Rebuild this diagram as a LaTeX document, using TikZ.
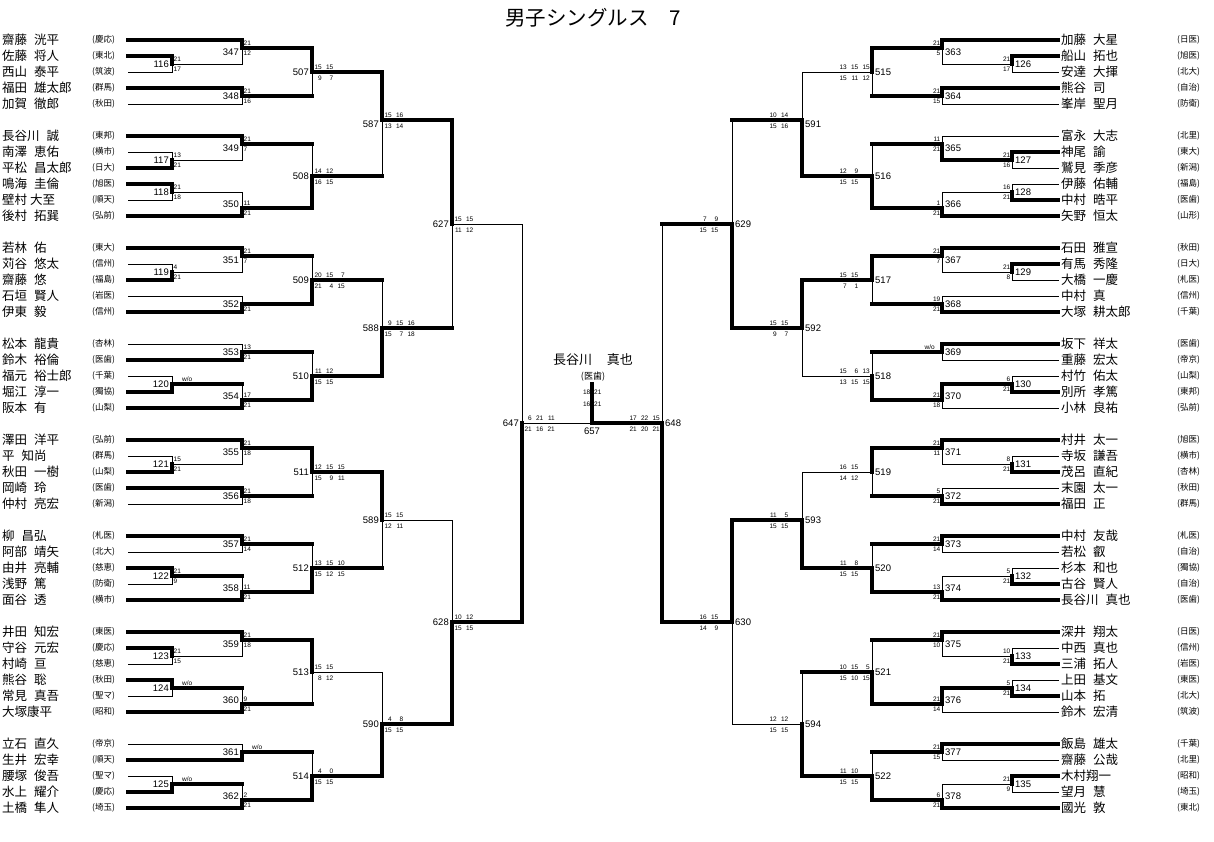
\documentclass[tikz,border=0pt]{standalone}
\usepackage{fontspec}
\setmainfont{Liberation Sans}
\newfontfamily\jp{Noto Sans CJK JP}
\newcommand\gp{\hspace{7pt}}
\newcommand\bedge[4]{\draw[#1] (#3) -- (#3 -| #4); \draw[#2] (#3 -| #4) -- (#4);}
\newcommand\lpl[4]{\coordinate (#1) at (128,#2);
 \node[nm,anchor=west] (#1n) at (2,#2) {#3};
 \node[sch,anchor=west] (#1s) at (92,#2) {(#4)};}
\newcommand\rpl[4]{\coordinate (#1) at (1058,#2);
 \node[nm,anchor=west] (#1n) at (1061,#2) {#3};
 \node[sch,anchor=west] (#1s) at (1177,#2) {(#4)};}
\newcommand\scl[5]{\node[gs,anchor=south west] (s#1t) at (#2+1.5,#3-2) {#4};
 \node[gs,anchor=north west] (s#1b) at (#2+1.5,#3+3) {#5};}
\newcommand\scr[5]{\node[gs,anchor=south east] (s#1t) at (#2-1.5,#3-2) {#4};
 \node[gs,anchor=north east] (s#1b) at (#2-1.5,#3+3) {#5};}
\newcommand\gml[9]{\node[gs,anchor=south east] (s#1a) at (#2+10,#3-2.5) {#4};
 \node[gs,anchor=south east] (s#1b) at (#2+21.5,#3-2.5) {#5};
 \node[gs,anchor=south east] (s#1c) at (#2+33,#3-2.5) {#6};
 \node[gs,anchor=north east] (s#1d) at (#2+10,#3+4) {#7};
 \node[gs,anchor=north east] (s#1e) at (#2+21.5,#3+4) {#8};
 \node[gs,anchor=north east] (s#1f) at (#2+33,#3+4) {#9};}
\newcommand\gmr[9]{\node[gs,anchor=south east] (s#1a) at (#2-25,#3-2.5) {#4};
 \node[gs,anchor=south east] (s#1b) at (#2-13.5,#3-2.5) {#5};
 \node[gs,anchor=south east] (s#1c) at (#2-2,#3-2.5) {#6};
 \node[gs,anchor=north east] (s#1d) at (#2-25,#3+4) {#7};
 \node[gs,anchor=north east] (s#1e) at (#2-13.5,#3+4) {#8};
 \node[gs,anchor=north east] (s#1f) at (#2-2,#3+4) {#9};}
\begin{document}
\begin{tikzpicture}[x=1pt,y=-1pt,
 thk/.style={line width=3.2pt,line cap=rect},
 thn/.style={line width=1pt,line cap=rect},
 nm/.style={font=\jp\fontsize{12.5}{12.5}\selectfont,inner sep=0},
 sch/.style={font=\jp\fontsize{8.5}{8.5}\selectfont,inner sep=0},
 mn/.style={font=\fontsize{9.5}{9.5}\selectfont,inner sep=0},
 gs/.style={font=\fontsize{6.5}{6.5}\selectfont,inner sep=0}]
\fill[white] (0,0) rectangle (1214,841);
\useasboundingbox (0,0) rectangle (1214,841);
\node[font=\jp\fontsize{20.5}{20.5}\selectfont,inner sep=0] (title) at (593,18) {男子シングルス　7};
% ---------------- left players
\lpl{p0}{40}{齋藤\gp 洸平}{慶応}
\lpl{p1}{56}{佐藤\gp 将人}{東北}
\lpl{p2}{72}{西山\gp 泰平}{筑波}
\lpl{p3}{88}{福田\gp 雄太郎}{群馬}
\lpl{p4}{104}{加賀\gp 徹郎}{秋田}
\lpl{p6}{136}{長谷川\gp 誠}{東邦}
\lpl{p7}{152}{南澤\gp 恵佑}{横市}
\lpl{p8}{168}{平松\gp 昌太郎}{日大}
\lpl{p9}{184}{鳴海\gp 圭倫}{旭医}
\lpl{p10}{200}{壁村 大至}{順天}
\lpl{p11}{216}{後村\gp 拓巽}{弘前}
\lpl{p13}{248}{若林\gp 佑}{東大}
\lpl{p14}{264}{苅谷\gp 悠太}{信州}
\lpl{p15}{280}{齋藤\gp 悠}{福島}
\lpl{p16}{296}{石垣\gp 賢人}{岩医}
\lpl{p17}{312}{伊東\gp 毅}{信州}
\lpl{p19}{344}{松本\gp 龍貴}{杏林}
\lpl{p20}{360}{鈴木\gp 裕倫}{医歯}
\lpl{p21}{376}{福元\gp 裕士郎}{千葉}
\lpl{p22}{392}{堀江\gp 淳一}{獨協}
\lpl{p23}{408}{阪本\gp 有}{山梨}
\lpl{p25}{440}{澤田\gp 洋平}{弘前}
\lpl{p26}{456}{平\gp 知尚}{群馬}
\lpl{p27}{472}{秋田\gp 一樹}{山梨}
\lpl{p28}{488}{岡崎\gp 玲}{医歯}
\lpl{p29}{504}{仲村\gp 亮宏}{新潟}
\lpl{p31}{536}{柳\gp 昌弘}{札医}
\lpl{p32}{552}{阿部\gp 靖矢}{北大}
\lpl{p33}{568}{由井\gp 亮輔}{慈恵}
\lpl{p34}{584}{浅野\gp 篤}{防衛}
\lpl{p35}{600}{面谷\gp 透}{横市}
\lpl{p37}{632}{井田\gp 知宏}{東医}
\lpl{p38}{648}{守谷\gp 元宏}{慶応}
\lpl{p39}{664}{村崎\gp 亘}{慈恵}
\lpl{p40}{680}{熊谷\gp 聡}{秋田}
\lpl{p41}{696}{常見\gp 真吾}{聖マ}
\lpl{p42}{712}{大塚康平}{昭和}
\lpl{p44}{744}{立石\gp 直久}{帝京}
\lpl{p45}{760}{生井\gp 宏幸}{順天}
\lpl{p46}{776}{腰塚\gp 俊吾}{聖マ}
\lpl{p47}{792}{水上\gp 耀介}{慶応}
\lpl{p48}{808}{土橋\gp 隼人}{埼玉}
% ---------------- right players
\rpl{q0}{40}{加藤\gp 大星}{日医}
\rpl{q1}{56}{船山\gp 拓也}{旭医}
\rpl{q2}{72}{安達\gp 大揮}{北大}
\rpl{q3}{88}{熊谷\gp 司}{自治}
\rpl{q4}{104}{峯岸\gp 聖月}{防衛}
\rpl{q6}{136}{富永\gp 大志}{北里}
\rpl{q7}{152}{神尾\gp 諭}{東大}
\rpl{q8}{168}{鷲見\gp 季彦}{新潟}
\rpl{q9}{184}{伊藤\gp 佑輔}{福島}
\rpl{q10}{200}{中村\gp 晧平}{医歯}
\rpl{q11}{216}{矢野\gp 恒太}{山形}
\rpl{q13}{248}{石田\gp 雅宣}{秋田}
\rpl{q14}{264}{有馬\gp 秀隆}{日大}
\rpl{q15}{280}{大橋\gp 一慶}{札医}
\rpl{q16}{296}{中村\gp 真}{信州}
\rpl{q17}{312}{大塚\gp 耕太郎}{千葉}
\rpl{q19}{344}{坂下\gp 祥太}{医歯}
\rpl{q20}{360}{重藤\gp 宏太}{帝京}
\rpl{q21}{376}{村竹\gp 佑太}{山梨}
\rpl{q22}{392}{別所\gp 孝篤}{東邦}
\rpl{q23}{408}{小林\gp 良祐}{弘前}
\rpl{q25}{440}{村井\gp 太一}{旭医}
\rpl{q26}{456}{寺坂\gp 謙吾}{横市}
\rpl{q27}{472}{茂呂\gp 直紀}{杏林}
\rpl{q28}{488}{末園\gp 太一}{秋田}
\rpl{q29}{504}{福田\gp 正}{群馬}
\rpl{q31}{536}{中村\gp 友哉}{札医}
\rpl{q32}{552}{若松\gp 叡}{自治}
\rpl{q33}{568}{杉本\gp 和也}{獨協}
\rpl{q34}{584}{古谷\gp 賢人}{自治}
\rpl{q35}{600}{長谷川\gp 真也}{医歯}
\rpl{q37}{632}{深井\gp 翔太}{日医}
\rpl{q38}{648}{中西\gp 真也}{信州}
\rpl{q39}{664}{三浦\gp 拓人}{岩医}
\rpl{q40}{680}{上田\gp 基文}{東医}
\rpl{q41}{696}{山本\gp 拓}{北大}
\rpl{q42}{712}{鈴木\gp 宏清}{筑波}
\rpl{q44}{744}{飯島\gp 雄太}{千葉}
\rpl{q45}{760}{齋藤\gp 公哉}{北里}
\rpl{q46}{776}{木村翔一}{昭和}
\rpl{q47}{792}{望月\gp 慧}{埼玉}
\rpl{q48}{808}{國光\gp 敦}{東北}
% ---------------- match points
\foreach \i/\x/\y in {116/172/64,117/172/160,118/172/192,119/172/272,120/172/384,121/172/464,122/172/576,123/172/656,124/172/688,125/172/784,
 347/242/48,348/242/96,349/242/144,350/242/208,351/242/256,352/242/304,353/242/352,354/242/400,355/242/448,356/242/496,357/242/544,358/242/592,359/242/640,360/242/704,361/242/752,362/242/800,
 507/312/72,508/312/176,509/312/280,510/312/376,511/312/472,512/312/568,513/312/672,514/312/776,
 587/382/120,588/382/328,589/382/520,590/382/724,627/452/224,628/452/622,647/522/423,
 126/1012/64,127/1012/160,128/1012/192,129/1012/272,130/1012/384,131/1012/464,132/1012/576,133/1012/656,134/1012/688,135/1012/784,
 363/942/48,364/942/96,365/942/144,366/942/208,367/942/256,368/942/304,369/942/352,370/942/400,371/942/448,372/942/496,373/942/544,374/942/592,375/942/640,376/942/704,377/942/752,378/942/800,
 515/872/72,516/872/176,517/872/280,518/872/376,519/872/472,520/872/568,521/872/672,522/872/776,
 591/802/120,592/802/328,593/802/520,594/802/724,629/732/224,630/732/622,648/662/423}
 {\coordinate (m\i) at (\x,\y);}
\coordinate (m657) at (592,423);
\coordinate (champ) at (592,384);
% ---------------- left bracket
\bedge{thk}{thk}{p1}{m116} \bedge{thn}{thn}{p2}{m116}
\bedge{thk}{thk}{p0}{m347} \bedge{thn}{thn}{m116}{m347}
\bedge{thk}{thk}{p3}{m348} \bedge{thn}{thn}{p4}{m348}
\bedge{thk}{thk}{m347}{m507} \bedge{thk}{thn}{m348}{m507}
\bedge{thk}{thk}{p6}{m349} \bedge{thn}{thn}{p7}{m117} \bedge{thk}{thk}{p8}{m117}
\bedge{thn}{thn}{m117}{m349}
\bedge{thk}{thk}{p9}{m118} \bedge{thn}{thn}{p10}{m118}
\bedge{thn}{thn}{m118}{m350} \bedge{thk}{thk}{p11}{m350}
\bedge{thk}{thn}{m349}{m508} \bedge{thk}{thk}{m350}{m508}
\bedge{thk}{thk}{m507}{m587} \bedge{thk}{thn}{m508}{m587}
\bedge{thk}{thk}{p13}{m351} \bedge{thn}{thn}{p14}{m119} \bedge{thk}{thk}{p15}{m119}
\bedge{thn}{thn}{m119}{m351}
\bedge{thn}{thn}{p16}{m352} \bedge{thk}{thk}{p17}{m352}
\bedge{thk}{thn}{m351}{m509} \bedge{thk}{thk}{m352}{m509}
\bedge{thn}{thn}{p19}{m353} \bedge{thk}{thk}{p20}{m353}
\bedge{thn}{thn}{p21}{m120} \bedge{thk}{thk}{p22}{m120}
\bedge{thk}{thn}{m120}{m354} \bedge{thk}{thk}{p23}{m354}
\bedge{thk}{thn}{m353}{m510} \bedge{thk}{thk}{m354}{m510}
\bedge{thk}{thn}{m509}{m588} \bedge{thk}{thk}{m510}{m588}
\bedge{thk}{thk}{m587}{m627} \bedge{thk}{thn}{m588}{m627}
\bedge{thk}{thk}{p25}{m355} \bedge{thn}{thn}{p26}{m121} \bedge{thk}{thk}{p27}{m121}
\bedge{thn}{thn}{m121}{m355}
\bedge{thk}{thk}{p28}{m356} \bedge{thn}{thn}{p29}{m356}
\bedge{thk}{thk}{m355}{m511} \bedge{thk}{thn}{m356}{m511}
\bedge{thk}{thk}{p31}{m357} \bedge{thn}{thn}{p32}{m357}
\bedge{thk}{thk}{p33}{m122} \bedge{thn}{thn}{p34}{m122}
\bedge{thk}{thn}{m122}{m358} \bedge{thk}{thk}{p35}{m358}
\bedge{thk}{thn}{m357}{m512} \bedge{thk}{thk}{m358}{m512}
\bedge{thk}{thk}{m511}{m589} \bedge{thk}{thn}{m512}{m589}
\bedge{thk}{thk}{p37}{m359} \bedge{thk}{thk}{p38}{m123} \bedge{thn}{thn}{p39}{m123}
\bedge{thn}{thn}{m123}{m359}
\bedge{thk}{thk}{p40}{m124} \bedge{thn}{thn}{p41}{m124}
\bedge{thk}{thn}{m124}{m360} \bedge{thk}{thk}{p42}{m360}
\bedge{thk}{thk}{m359}{m513} \bedge{thk}{thn}{m360}{m513}
\bedge{thn}{thn}{p44}{m361} \bedge{thk}{thk}{p45}{m361}
\bedge{thn}{thn}{p46}{m125} \bedge{thk}{thk}{p47}{m125}
\bedge{thk}{thn}{m125}{m362} \bedge{thk}{thk}{p48}{m362}
\bedge{thk}{thn}{m361}{m514} \bedge{thk}{thk}{m362}{m514}
\bedge{thn}{thn}{m513}{m590} \bedge{thk}{thk}{m514}{m590}
\bedge{thn}{thn}{m589}{m628} \bedge{thk}{thk}{m590}{m628}
\bedge{thn}{thn}{m627}{m647} \bedge{thk}{thk}{m628}{m647}
% ---------------- right bracket
\bedge{thk}{thk}{q0}{m363} \bedge{thk}{thk}{q1}{m126} \bedge{thn}{thn}{q2}{m126}
\bedge{thn}{thn}{m126}{m363}
\bedge{thk}{thk}{q3}{m364} \bedge{thn}{thn}{q4}{m364}
\bedge{thk}{thk}{m363}{m515} \bedge{thk}{thn}{m364}{m515}
\bedge{thn}{thn}{q6}{m365} \bedge{thk}{thk}{q7}{m127} \bedge{thn}{thn}{q8}{m127}
\bedge{thk}{thk}{m127}{m365}
\bedge{thn}{thn}{q9}{m128} \bedge{thk}{thk}{q10}{m128}
\bedge{thn}{thn}{m128}{m366} \bedge{thk}{thk}{q11}{m366}
\bedge{thk}{thn}{m365}{m516} \bedge{thk}{thk}{m366}{m516}
\bedge{thn}{thn}{m515}{m591} \bedge{thk}{thk}{m516}{m591}
\bedge{thk}{thk}{q13}{m367} \bedge{thk}{thk}{q14}{m129} \bedge{thn}{thn}{q15}{m129}
\bedge{thn}{thn}{m129}{m367}
\bedge{thn}{thn}{q16}{m368} \bedge{thk}{thk}{q17}{m368}
\bedge{thk}{thk}{m367}{m517} \bedge{thk}{thn}{m368}{m517}
\bedge{thk}{thk}{q19}{m369} \bedge{thn}{thn}{q20}{m369}
\bedge{thn}{thn}{q21}{m130} \bedge{thk}{thk}{q22}{m130}
\bedge{thk}{thk}{m130}{m370} \bedge{thn}{thn}{q23}{m370}
\bedge{thk}{thn}{m369}{m518} \bedge{thk}{thk}{m370}{m518}
\bedge{thk}{thk}{m517}{m592} \bedge{thn}{thn}{m518}{m592}
\bedge{thk}{thn}{m591}{m629} \bedge{thk}{thk}{m592}{m629}
\bedge{thk}{thk}{q25}{m371} \bedge{thn}{thn}{q26}{m131} \bedge{thk}{thk}{q27}{m131}
\bedge{thn}{thn}{m131}{m371}
\bedge{thn}{thn}{q28}{m372} \bedge{thk}{thk}{q29}{m372}
\bedge{thk}{thk}{m371}{m519} \bedge{thk}{thn}{m372}{m519}
\bedge{thk}{thk}{q31}{m373} \bedge{thn}{thn}{q32}{m373}
\bedge{thn}{thn}{q33}{m132} \bedge{thk}{thk}{q34}{m132}
\bedge{thn}{thn}{m132}{m374} \bedge{thk}{thk}{q35}{m374}
\bedge{thk}{thn}{m373}{m520} \bedge{thk}{thk}{m374}{m520}
\bedge{thn}{thn}{m519}{m593} \bedge{thk}{thk}{m520}{m593}
\bedge{thk}{thk}{q37}{m375} \bedge{thn}{thn}{q38}{m133} \bedge{thk}{thk}{q39}{m133}
\bedge{thn}{thn}{m133}{m375}
\bedge{thn}{thn}{q40}{m134} \bedge{thk}{thk}{q41}{m134}
\bedge{thk}{thk}{m134}{m376} \bedge{thn}{thn}{q42}{m376}
\bedge{thk}{thn}{m375}{m521} \bedge{thk}{thk}{m376}{m521}
\bedge{thk}{thk}{q44}{m377} \bedge{thn}{thn}{q45}{m377}
\bedge{thk}{thk}{q46}{m135} \bedge{thn}{thn}{q47}{m135}
\bedge{thn}{thn}{m135}{m378} \bedge{thk}{thk}{q48}{m378}
\bedge{thk}{thn}{m377}{m522} \bedge{thk}{thk}{m378}{m522}
\bedge{thk}{thn}{m521}{m594} \bedge{thk}{thk}{m522}{m594}
\bedge{thk}{thk}{m593}{m630} \bedge{thn}{thn}{m594}{m630}
\bedge{thk}{thn}{m629}{m648} \bedge{thk}{thk}{m630}{m648}
% ---------------- final
\draw[thn] (m647) -- (m657);
\draw[thk] (m648) -- (m657);
\draw[thk] (m657) -- (champ);
\node[font=\jp\fontsize{13}{13}\selectfont,inner sep=0] (champn) at (593,360) {長谷川\hspace{15pt}真也};
\node[font=\jp\fontsize{9}{9}\selectfont,inner sep=0] (champs) at (593,377) {(医歯)};
\node[gs,anchor=east] (f1) at (590.5,392) {18};
\node[gs,anchor=west] (f2) at (594,392) {21};
\node[gs,anchor=east] (f3) at (590.5,404) {16};
\node[gs,anchor=west] (f4) at (594,404) {21};
\node[mn] (n657) at (592,431) {657};
% ---------------- match numbers
\foreach \i/\x/\y in {116/172/64,117/172/160,118/172/192,119/172/272,120/172/384,121/172/464,122/172/576,123/172/656,124/172/688,125/172/784,
 347/242/52,348/242/96,349/242/148,350/242/204,351/242/260,352/242/304,353/242/352,354/242/396,355/242/452,356/242/496,357/242/544,358/242/588,359/242/644,360/242/700,361/242/752,362/242/796,
 507/312/72,508/312/176,509/312/280,510/312/376,511/312/472,512/312/568,513/312/672,514/312/776,
 587/382/124,588/382/328,589/382/520,590/382/724,627/452/224,628/452/622,647/522/423}
 {\node[mn,anchor=east] (n\i) at (\x-3,\y) {\i};}
\foreach \i/\x/\y in {126/1012/64,127/1012/160,128/1012/192,129/1012/272,130/1012/384,131/1012/464,132/1012/576,133/1012/656,134/1012/688,135/1012/784,
 363/942/52,364/942/96,365/942/148,366/942/204,367/942/260,368/942/304,369/942/352,370/942/396,371/942/452,372/942/496,373/942/544,374/942/588,375/942/644,376/942/700,377/942/752,378/942/796,
 515/872/72,516/872/176,517/872/280,518/872/376,519/872/472,520/872/568,521/872/672,522/872/776,
 591/802/124,592/802/328,593/802/520,594/802/724,629/732/224,630/732/622,648/662/423}
 {\node[mn,anchor=west] (n\i) at (\x+3,\y) {\i};}
% ---------------- left scores
\scl{116}{172}{64}{21}{17}
\scl{347}{242}{48}{21}{12}
\scl{348}{242}{96}{21}{16}
\scl{117}{172}{160}{13}{21}
\scl{349}{242}{144}{21}{7}
\scl{118}{172}{192}{21}{18}
\scl{350}{242}{208}{11}{21}
\scl{119}{172}{272}{4}{21}
\scl{351}{242}{256}{21}{7}
\scl{352}{242}{304}{}{21}
\scl{353}{242}{352}{13}{21}
\scl{354}{242}{400}{17}{21}
\scl{121}{172}{464}{15}{21}
\scl{355}{242}{448}{21}{18}
\scl{356}{242}{496}{21}{18}
\scl{357}{242}{544}{21}{14}
\scl{122}{172}{576}{21}{9}
\scl{358}{242}{592}{11}{21}
\scl{123}{172}{656}{21}{15}
\scl{359}{242}{640}{21}{18}
\scl{360}{242}{704}{9}{21}
\scl{362}{242}{800}{2}{21}
\node[gs,anchor=south west] (w120) at (182,382) {w/o};
\node[gs,anchor=south west] (w124) at (182,686) {w/o};
\node[gs,anchor=south west] (w125) at (182,782) {w/o};
\node[gs,anchor=south west] (w361) at (252,750) {w/o};
\gml{507}{312}{72}{15}{15}{}{9}{7}{}
\gml{508}{312}{176}{14}{12}{}{16}{15}{}
\gml{509}{312}{280}{20}{15}{7}{21}{4}{15}
\gml{510}{312}{376}{11}{12}{}{15}{15}{}
\gml{511}{312}{472}{12}{15}{15}{15}{9}{11}
\gml{512}{312}{568}{13}{15}{10}{15}{12}{15}
\gml{513}{312}{672}{15}{15}{}{8}{12}{}
\gml{514}{312}{776}{4}{0}{}{15}{15}{}
\gml{587}{382}{120}{15}{16}{}{13}{14}{}
\gml{588}{382}{328}{9}{15}{16}{15}{7}{18}
\gml{589}{382}{520}{15}{15}{}{12}{11}{}
\gml{590}{382}{724}{4}{8}{}{15}{15}{}
\gml{627}{452}{224}{15}{15}{}{11}{12}{}
\gml{628}{452}{622}{10}{12}{}{15}{15}{}
\gml{647}{522}{423}{6}{21}{11}{21}{16}{21}
% ---------------- right scores
\scr{363}{942}{48}{21}{5}
\scr{126}{1012}{64}{21}{17}
\scr{364}{942}{96}{21}{15}
\scr{365}{942}{144}{11}{21}
\scr{127}{1012}{160}{21}{16}
\scr{128}{1012}{192}{16}{21}
\scr{366}{942}{208}{1}{21}
\scr{367}{942}{256}{21}{7}
\scr{129}{1012}{272}{21}{8}
\scr{368}{942}{304}{19}{21}
\scr{130}{1012}{384}{6}{21}
\scr{370}{942}{400}{21}{18}
\scr{371}{942}{448}{21}{11}
\scr{131}{1012}{464}{8}{21}
\scr{372}{942}{496}{5}{21}
\scr{373}{942}{544}{21}{14}
\scr{132}{1012}{576}{5}{21}
\scr{374}{942}{592}{13}{21}
\scr{375}{942}{640}{21}{10}
\scr{133}{1012}{656}{10}{21}
\scr{134}{1012}{688}{5}{21}
\scr{376}{942}{704}{21}{14}
\scr{377}{942}{752}{21}{15}
\scr{135}{1012}{784}{21}{9}
\scr{378}{942}{800}{6}{21}
\node[gs,anchor=south east] (w369) at (935,350) {w/o};
\gmr{515}{872}{72}{13}{15}{15}{15}{11}{12}
\gmr{516}{872}{176}{12}{9}{}{15}{15}{}
\gmr{517}{872}{280}{15}{15}{}{7}{1}{}
\gmr{518}{872}{376}{15}{6}{13}{13}{15}{15}
\gmr{519}{872}{472}{16}{15}{}{14}{12}{}
\gmr{520}{872}{568}{11}{8}{}{15}{15}{}
\gmr{521}{872}{672}{10}{15}{5}{15}{10}{15}
\gmr{522}{872}{776}{11}{10}{}{15}{15}{}
\gmr{591}{802}{120}{10}{14}{}{15}{16}{}
\gmr{592}{802}{328}{15}{15}{}{9}{7}{}
\gmr{593}{802}{520}{11}{5}{}{15}{15}{}
\gmr{594}{802}{724}{12}{12}{}{15}{15}{}
\gmr{629}{732}{224}{7}{9}{}{15}{15}{}
\gmr{630}{732}{622}{16}{15}{}{14}{9}{}
\gmr{648}{662}{423}{17}{22}{15}{21}{20}{21}
\end{tikzpicture}
\end{document}
